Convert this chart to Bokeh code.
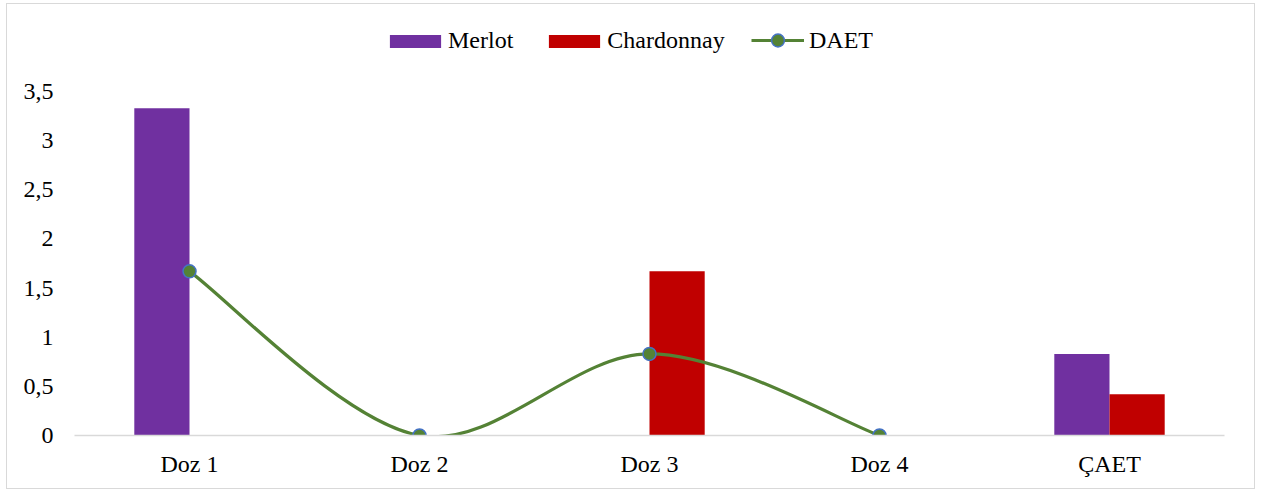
from bokeh.plotting import figure
from bokeh.models import Range1d, FixedTicker, Legend, LegendItem, ColumnDataSource
from bokeh.embed import file_html
from bokeh.resources import INLINE

categories = ["Doz 1", "Doz 2", "Doz 3", "Doz 4", "ÇAET"]
merlot = [3.33, 0, 0, 0, 0.83]
chardonnay = [0, 0, 1.67, 0, 0.42]
daet = [1.67, 0, 0.83, 0]          # DAET line covers the four doses
y_ticks = [0, 0.5, 1, 1.5, 2, 2.5, 3, 3.5]
y_tick_labels = ["0", "0,5", "1", "1,5", "2", "2,5", "3", "3,5"]

PURPLE = "#7030A0"
RED = "#C00000"
GREEN = "#548235"
BLUE = "#4472C4"
FONT = "Liberation Serif"
FS = "24px"

# frame reaches up to the legend row; ticks stop at 3,5
p = figure(width=1249, height=486, output_backend="svg", toolbar_location=None,
           x_range=Range1d(-0.5, len(categories) - 0.5), y_range=Range1d(0, 4.273),
           min_border_left=67, min_border_right=32, min_border_top=11, min_border_bottom=55,
           styles={"margin": "3px 0 0 6px", "border": "1px solid #d9d9d9"})
p.outline_line_color = None
p.grid.visible = False
p.background_fill_color = "white"
p.border_fill_color = "white"

xpos = list(range(len(categories)))
bw = 0.24
src = ColumnDataSource(dict(x=xpos, merlot=merlot, chardonnay=chardonnay,
                            xm=[x - bw / 2 for x in xpos], xc=[x + bw / 2 for x in xpos]))
r_m = p.vbar(x="xm", top="merlot", width=bw, source=src, fill_color=PURPLE, line_color=None)
r_c = p.vbar(x="xc", top="chardonnay", width=bw, source=src, fill_color=RED, line_color=None)

# smoothed DAET curve: Catmull-Rom segments expressed as cubic Beziers
n = len(daet)
seg = dict(x0=[], y0=[], x1=[], y1=[], cx0=[], cy0=[], cx1=[], cy1=[])
for i in range(n - 1):
    xa, ya = xpos[i], daet[i]
    xb, yb = xpos[i + 1], daet[i + 1]
    xp, yp = (xpos[i - 1], daet[i - 1]) if i > 0 else (xa, ya)
    xn, yn = (xpos[i + 2], daet[i + 2]) if i + 2 < n else (xb, yb)
    seg["x0"].append(xa); seg["y0"].append(ya)
    seg["x1"].append(xb); seg["y1"].append(yb)
    seg["cx0"].append(xa + (xb - xp) / 6); seg["cy0"].append(ya + (yb - yp) / 6)
    seg["cx1"].append(xb - (xn - xa) / 6); seg["cy1"].append(yb - (yn - ya) / 6)
p.bezier(source=ColumnDataSource(seg), line_color=GREEN, line_width=3.2)
# legend stand-in for the curve (kept outside the visible range)
r_line = p.line([-9, -8], [-9, -9], line_color=GREEN, line_width=3.2)
r_pts = p.scatter(xpos[:n], daet, size=13, fill_color=GREEN, line_color=BLUE, line_width=1.5)

# axes
p.xaxis.ticker = FixedTicker(ticks=xpos)
p.xaxis.major_label_overrides = {x: c for x, c in zip(xpos, categories)}
p.xaxis.axis_line_color = "#d9d9d9"
p.xaxis.axis_line_width = 1.5
p.xaxis.major_tick_line_color = None
p.xaxis.minor_tick_line_color = None
p.xaxis.major_label_standoff = 9

p.yaxis.ticker = FixedTicker(ticks=y_ticks)
p.yaxis.major_label_overrides = {t: l for t, l in zip(y_ticks, y_tick_labels)}
p.yaxis.axis_line_color = None
p.yaxis.major_tick_line_color = None
p.yaxis.minor_tick_line_color = None
p.yaxis.major_label_standoff = 15

for ax in (p.xaxis[0], p.yaxis[0]):
    ax.major_label_text_font = FONT
    ax.major_label_text_font_size = FS
    ax.major_label_text_color = "black"

common = dict(orientation="horizontal", padding=0, margin=0, border_line_color=None,
              background_fill_alpha=0, label_text_font=FONT, label_text_font_size=FS,
              label_height=24, label_text_color="black")

# bar swatches
bar_legend = Legend(items=[LegendItem(label="Merlot", renderers=[r_m]),
                           LegendItem(label="Chardonnay", renderers=[r_c])],
                    location=(309, 381), glyph_width=64, glyph_height=16,
                    label_standoff=1, spacing=29, **common)
# line + marker swatch, taller so the marker keeps its size
line_legend = Legend(items=[LegendItem(label="DAET", renderers=[r_line, r_pts])],
                     location=(677, 379), glyph_width=53, glyph_height=32,
                     label_standoff=5, **common)
p.add_layout(bar_legend, "center")
p.add_layout(line_legend, "center")

open("out.html", "w").write(file_html(p, INLINE))
